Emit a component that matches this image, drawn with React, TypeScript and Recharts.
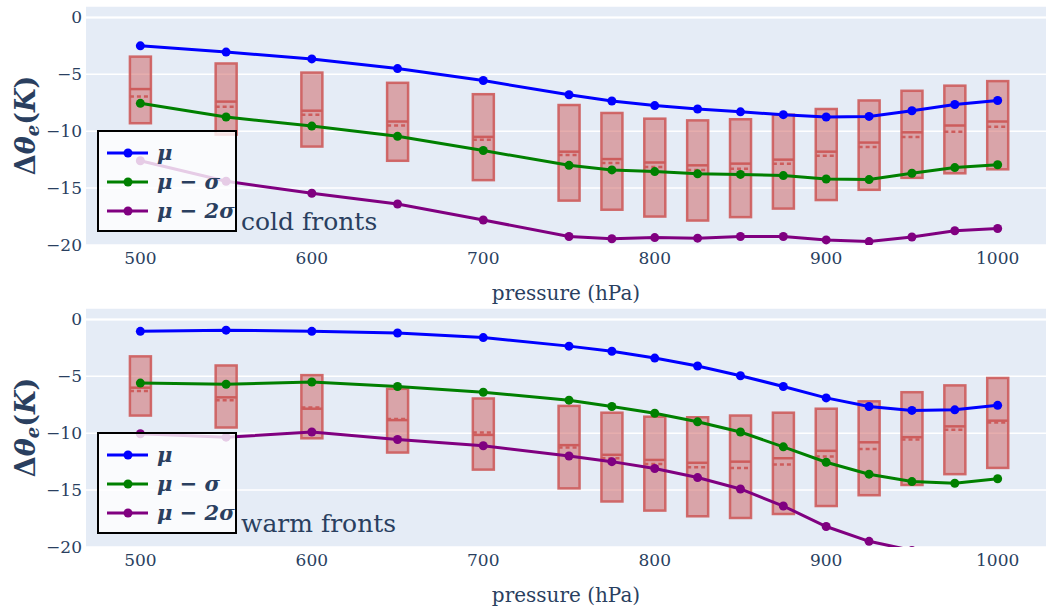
import {
  ComposedChart,
  Bar,
  Line,
  XAxis,
  YAxis,
  CartesianGrid,
  ReferenceLine,
  Legend,
} from "recharts";

const PRESSURE = [500, 550, 600, 650, 700, 750, 775, 800, 825, 850, 875, 900, 925, 950, 975, 1000];
const X_TICKS = [500, 600, 700, 800, 900, 1000];
const Y_TICKS = [-20, -15, -10, -5, 0];

// cold fronts
const COLD_MU = [-2.5, -3.05, -3.65, -4.5, -5.55, -6.8, -7.35, -7.75, -8.05, -8.3, -8.55, -8.75, -8.7, -8.2, -7.65, -7.3];
const COLD_MU_S = [-7.55, -8.75, -9.55, -10.45, -11.7, -13.0, -13.4, -13.55, -13.75, -13.8, -13.9, -14.2, -14.25, -13.7, -13.2, -12.95];
const COLD_MU_2S = [-12.6, -14.4, -15.45, -16.4, -17.8, -19.25, -19.45, -19.35, -19.4, -19.25, -19.25, -19.55, -19.7, -19.3, -18.75, -18.55];
const COLD_Q3 = [-3.45, -4.05, -4.85, -5.75, -6.75, -7.7, -8.4, -8.9, -9.05, -8.95, -8.55, -8.05, -7.3, -6.45, -6.0, -5.6];
const COLD_Q1 = [-9.3, -10.3, -11.35, -12.6, -14.3, -16.1, -16.9, -17.5, -17.85, -17.55, -16.8, -16.05, -15.15, -14.1, -13.7, -13.35];
const COLD_MED = [-6.3, -7.4, -8.2, -9.15, -10.5, -11.8, -12.45, -12.75, -13.0, -12.85, -12.5, -11.8, -11.0, -10.1, -9.5, -9.15];
const COLD_MEAN = [-6.95, -7.85, -8.55, -9.5, -10.75, -12.1, -12.8, -13.15, -13.4, -13.3, -12.85, -12.15, -11.4, -10.5, -10.05, -9.6];

// warm fronts
const WARM_MU = [-1.05, -0.95, -1.05, -1.2, -1.6, -2.35, -2.8, -3.4, -4.1, -4.95, -5.9, -6.9, -7.65, -8.0, -7.95, -7.55];
const WARM_MU_S = [-5.6, -5.7, -5.5, -5.9, -6.4, -7.1, -7.65, -8.25, -9.0, -9.9, -11.2, -12.55, -13.6, -14.25, -14.4, -14.0];
const WARM_MU_2S = [-10.05, -10.35, -9.9, -10.55, -11.1, -12.0, -12.5, -13.1, -13.9, -14.9, -16.4, -18.2, -19.5, -20.3, -20.6, -20.4];
const WARM_Q3 = [-3.25, -4.05, -4.9, -6.1, -6.95, -7.6, -8.2, -8.55, -8.6, -8.45, -8.2, -7.85, -7.2, -6.4, -5.8, -5.15];
const WARM_Q1 = [-8.45, -9.5, -10.45, -11.7, -13.2, -14.85, -16.0, -16.8, -17.3, -17.45, -17.1, -16.4, -15.45, -14.55, -13.6, -13.05];
const WARM_MED = [-6.0, -6.85, -7.85, -8.85, -10.15, -11.05, -11.9, -12.35, -12.6, -12.5, -12.2, -11.55, -10.8, -10.35, -9.4, -8.9];
const WARM_MEAN = [-6.3, -7.1, -7.75, -8.75, -9.95, -11.25, -12.2, -12.7, -13.0, -13.05, -12.75, -12.05, -11.4, -10.55, -9.7, -9.05];

const SERIES = [
  { key: "mu", label: "μ", color: "#0000ff" },
  { key: "muS", label: "μ − σ", color: "#008000" },
  { key: "mu2S", label: "μ − 2σ", color: "#800080" },
];

const INK = "#2a3f5f";
const FONT = "'DejaVu Serif', serif";
const RED = "#cd5c5c";

function buildRows(mu, muS, mu2S, q1, q3, med, mean) {
  return PRESSURE.map((p, i) => ({
    p,
    mu: mu[i],
    muS: muS[i],
    mu2S: mu2S[i],
    box: [q1[i], q3[i]],
    med: med[i],
    mean: mean[i],
  }));
}

const coldRows = buildRows(COLD_MU, COLD_MU_S, COLD_MU_2S, COLD_Q1, COLD_Q3, COLD_MED, COLD_MEAN);
const warmRows = buildRows(WARM_MU, WARM_MU_S, WARM_MU_2S, WARM_Q1, WARM_Q3, WARM_MED, WARM_MEAN);

function BoxShape(props: any) {
  const { x, y, width, height, payload } = props;
  const top = Math.min(y, y + height);
  const h = Math.abs(height);
  const [lo, hi] = payload.box;
  // position inside the box, from the bar's scaled ends
  const at = (v: number) => top + ((hi - v) / (hi - lo)) * h;
  return (
    <g>
      <rect x={x} y={top} width={width} height={h} fill="rgba(205,92,92,0.5)" stroke={RED} strokeOpacity={0.9} strokeWidth={2.5} />
      <line x1={x} x2={x + width} y1={at(payload.med)} y2={at(payload.med)} stroke={RED} strokeWidth={2.5} />
      <line x1={x} x2={x + width} y1={at(payload.mean)} y2={at(payload.mean)} stroke={RED} strokeWidth={2.5} strokeDasharray="4 3" />
    </g>
  );
}

const fmtY = (v: number) => (v < 0 ? "\u2212" + Math.abs(v) : String(v));

function XTitle(props: any) {
  const vb = props.viewBox;
  return (
    <text x={vb.x + vb.width / 2} y={vb.y + 55} textAnchor="middle" fill={INK} fontSize={20} fontFamily={FONT}>
      pressure (hPa)
    </text>
  );
}

function YTitle(props: any) {
  const vb = props.viewBox;
  const cx = 25;
  const cy = vb.y + vb.height / 2;
  return (
    <text
      x={cx}
      y={cy}
      transform={`rotate(-90, ${cx}, ${cy})`}
      textAnchor="middle"
      dominantBaseline="central"
      fill={INK}
      fontSize={27}
      fontWeight="bold"
      fontFamily={FONT}
    >
      <tspan>Δ</tspan>
      <tspan fontStyle="italic">θ</tspan>
      <tspan fontStyle="italic" fontSize={18} dy={7}>e</tspan>
      <tspan dy={-7}>(</tspan>
      <tspan fontStyle="italic">K</tspan>
      <tspan>)</tspan>
    </text>
  );
}

function LegendBox() {
  return (
    <div
      style={{
        width: 136,
        height: 92,
        paddingTop: 6,
        border: "2px solid #000",
        background: "rgba(255,255,255,0.8)",
      }}
    >
      {SERIES.map((s) => (
        <div key={s.key} style={{ display: "flex", alignItems: "center", height: 29 }}>
          <svg width={50} height={12} style={{ flex: "none" }}>
            <line x1={8} x2={49} y1={6} y2={6} stroke={s.color} strokeWidth={3} />
            <circle cx={29} cy={6} r={4.5} fill={s.color} />
          </svg>
          <span
            style={{
              marginLeft: 8,
              fontFamily: FONT,
              fontWeight: "bold",
              fontStyle: "italic",
              fontSize: 21,
              color: INK,
              whiteSpace: "nowrap",
              lineHeight: "29px",
            }}
          >
            {s.label}
          </span>
        </div>
      ))}
    </div>
  );
}

function FrontPanel({ rows, note, height, xAxisHeight, top }) {
  return (
    <div style={{ position: "absolute", left: 0, top, width: 1046, height }}>
      <ComposedChart width={1046} height={height} data={rows} margin={{ top: 6, right: 0, bottom: 0, left: 0 }}>
        <CartesianGrid fill="#e5ecf6" stroke="#ffffff" strokeWidth={1.5} vertical={false} />
        <XAxis
          dataKey="p"
          type="number"
          domain={[468.3, 1028.2]}
          ticks={X_TICKS}
          allowDataOverflow
          axisLine={false}
          tickLine={false}
          tickSize={0}
          tickMargin={7}
          height={xAxisHeight}
          tick={{ fill: INK, fontSize: 17, fontFamily: FONT }}
          label={XTitle}
        />
        <YAxis
          type="number"
          domain={[-20, 1]}
          ticks={Y_TICKS}
          allowDataOverflow
          axisLine={false}
          tickLine={false}
          tickSize={0}
          tickMargin={4}
          width={86}
          tickFormatter={fmtY}
          tick={{ fill: INK, fontSize: 17, fontFamily: FONT }}
          label={YTitle}
        />
        <ReferenceLine y={0} stroke="#ffffff" strokeWidth={2} />
        <Bar dataKey="box" barSize={21} shape={BoxShape} isAnimationActive={false} />
        {SERIES.map((s) => (
          <Line
            key={s.key}
            type="linear"
            dataKey={s.key}
            name={s.label}
            stroke={s.color}
            strokeWidth={3}
            dot={{ r: 4.5, fill: s.color, stroke: s.color, strokeWidth: 0 }}
            activeDot={false}
            isAnimationActive={false}
          />
        ))}
        <Legend
          layout="vertical"
          align="center"
          verticalAlign="middle"
          content={LegendBox}
          wrapperStyle={{ left: 97, top: 130, width: 140, height: 102 }}
        />
      </ComposedChart>
      <div
        style={{
          position: "absolute",
          left: 241,
          top: 209,
          fontFamily: FONT,
          fontSize: 25,
          lineHeight: "25px",
          color: INK,
          whiteSpace: "nowrap",
        }}
      >
        {note}
      </div>
    </div>
  );
}

export default function App() {
  return (
    <div style={{ position: "absolute", left: 0, top: 0, width: 1046, height: 612, background: "#fff" }}>
      <FrontPanel rows={coldRows} note="cold fronts" top={0} height={306} xAxisHeight={61} />
      <FrontPanel rows={warmRows} note="warm fronts" top={302} height={310} xAxisHeight={65} />
    </div>
  );
}
